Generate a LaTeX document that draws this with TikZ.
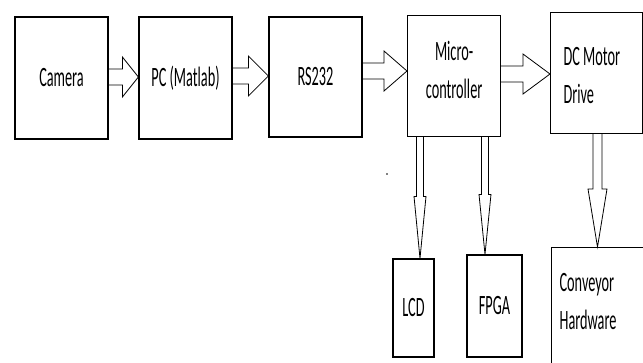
\documentclass[tikz,border=0pt]{standalone}
\usepackage{fontspec}
\setmainfont{Carlito}
\newfontfamily\boxfont{Carlito}[FakeStretch=0.51]
\usetikzlibrary{calc}

\begin{document}
\begin{tikzpicture}[x=1pt, y=-1pt,
    box/.style={draw, line width=1.2pt, inner sep=0pt, align=center,
        font=\boxfont\fontsize{28}{38}\selectfont},
    blk/.style={line width=0.8pt, line join=miter}]
        \useasboundingbox (0,0) rectangle (643,362);
        \clip (0,0) rectangle (643,362);
        % Top row of blocks
        \node[box, minimum width=93, minimum height=122] (cam) at (61.5,78) {Camera};
        \node[box, minimum width=93, minimum height=122] (pc) at (185.5,78) {PC (Matlab)};
        \node[box, minimum width=93, minimum height=120] (rs) at (315.5,77) {RS232};
        \node[box, anchor=north west, text width=93, text height=45, text depth=76] (mcu) at (407,15) {Micro-\\controller};
        \node[box, anchor=north west, text width=66, inner xsep=13, align=flush left, text height=53, text depth=68] (dc) at (550,12) {DC Motor\\Drive};
        % Bottom row of blocks
        \node[box, minimum width=41, minimum height=98] (lcd) at (413.5,308) {LCD};
        \node[box, minimum width=55, minimum height=102] (fpga) at (494.5,306) {FPGA};
        \node[box, anchor=north west, text width=120, inner xsep=8, align=flush left, text height=44, text depth=140] (conv) at (551,247) {Conveyor\\Hardware};
        % Block arrows to the right
        \foreach \a/\b/\y/\h in {cam/pc/77/16, pc/rs/76/20, rs/mcu/71/23, mcu/dc/74/27} {
            \draw[blk] (\a.east |- 0,\y) ++(0,-8) -- ($(\b.west |- 0,\y)+(-\h,-8)$) -- ++(0,-12)
                -- (\b.west |- 0,\y) -- ++(-\h,20) -- ++(0,-12) -- ($(\a.east |- 0,\y)+(0,8)$);
        }
        % Block arrows downwards
        \foreach \a/\b/\x/\s/\d/\h in {mcu/lcd/420/3.5/2.5/62, mcu/fpga/485/3.5/2.5/60, dc/conv/597.5/4.5/5/58} {
            \draw[blk] (\x,0 |- \a.south) ++(-\s,0) -- ($(\x,0 |- \b.north)+(-\s,-\h)$) -- ++(-\d,0)
                -- (\x,0 |- \b.north) -- ++({\s+\d},-\h) -- ++(-\d,0) -- ($(\x,0 |- \a.south)+(\s,0)$);
        }
        \fill (387,174) circle (0.8);
    \end{tikzpicture}
\end{document}
